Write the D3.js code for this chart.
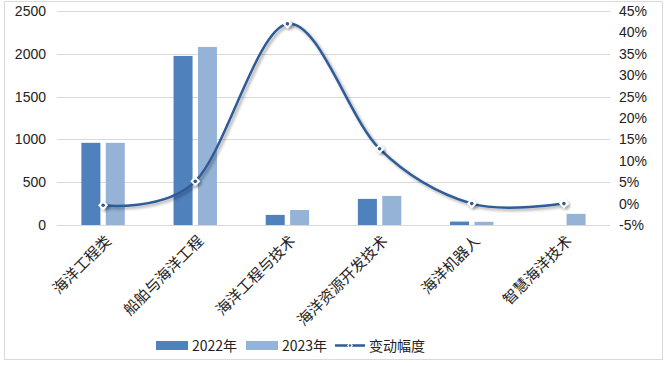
<!DOCTYPE html>
<html>
<head>
<meta charset="utf-8">
<style>
  body { margin: 0; background: #fff; }
  svg { display: block; font-family: "Noto Sans CJK SC", "Liberation Sans", sans-serif; }
</style>
</head>
<body>
<div id="chart"></div>
<script src="https://d3js.org/d3.v7.min.js"></script>
<script>
var categories = ["海洋工程类", "船舶与海洋工程", "海洋工程与技术", "海洋资源开发技术", "海洋机器人", "智慧海洋技术"];
var values2022 = [960, 1975, 118, 305, 40, 0];
var values2023 = [960, 2080, 175, 340, 38, 130];
var change = [-0.004, 0.052, 0.42, 0.128, 0.0, 0.0];
var leftTicks = [0, 500, 1000, 1500, 2000, 2500];
var rightTicks = [-0.05, 0, 0.05, 0.10, 0.15, 0.20, 0.25, 0.30, 0.35, 0.40, 0.45];

var W = 667, H = 366;
var m = {left: 57, right: 610, top: 11, bottom: 225};

var svg = d3.select("#chart").append("svg")
  .attr("width", W).attr("height", H);

svg.append("rect")
  .attr("x", 4.5).attr("y", 1.5).attr("width", 658).attr("height", 358)
  .attr("fill", "#fff").attr("stroke", "#d9d9d9");

var x = d3.scaleBand().domain(categories).range([m.left, m.right]);
var xs = d3.scaleBand().domain(["2022", "2023"]).range([0, x.bandwidth()]).paddingInner(0.22).paddingOuter(1.0);
var y = d3.scaleLinear().domain([0, 2500]).range([m.bottom, m.top]);
var y2 = d3.scaleLinear().domain([-0.05, 0.45]).range([m.bottom, m.top]);

// gridlines
svg.append("g").selectAll("line").data(leftTicks).enter().append("line")
  .attr("x1", m.left).attr("x2", m.right)
  .attr("y1", d => Math.round(y(d)) + 0.5).attr("y2", d => Math.round(y(d)) + 0.5)
  .attr("stroke", "#d9d9d9");

// left axis labels
svg.append("g").selectAll("text").data(leftTicks).enter().append("text")
  .attr("x", 46).attr("y", d => y(d) + 5)
  .attr("text-anchor", "end").attr("font-size", 14).attr("fill", "#222")
  .attr("font-family", "Liberation Sans, sans-serif")
  .text(d => d);

// right axis labels
svg.append("g").selectAll("text").data(rightTicks).enter().append("text")
  .attr("x", 619).attr("y", d => y2(d) + 5)
  .attr("text-anchor", "start").attr("font-size", 14).attr("fill", "#222")
  .attr("font-family", "Liberation Sans, sans-serif")
  .text(d => (d < 0 ? "-" : "") + Math.round(Math.abs(d) * 100) + "%");

// bars
var cols = {"2022": "#4f81bd", "2023": "#95b3d7"};
var series = [["2022", values2022], ["2023", values2023]];
series.forEach(function(s) {
  svg.append("g").selectAll("rect").data(s[1]).enter().append("rect")
    .attr("x", (d, i) => x(categories[i]) + xs(s[0]))
    .attr("width", xs.bandwidth())
    .attr("y", d => y(d))
    .attr("height", d => y(0) - y(d))
    .attr("fill", cols[s[0]]);
});

// category labels
svg.append("g").selectAll("text").data(categories).enter().append("text")
  .attr("transform", d => "translate(" + (x(d) + x.bandwidth() / 2 + 9) + ",242) rotate(-45)")
  .attr("text-anchor", "end").attr("font-size", 15).attr("fill", "#222")
  .text(d => d);

// line with shadow
var defs = svg.append("defs");
var f = defs.append("filter").attr("id", "shadow").attr("x", "-20%").attr("y", "-20%").attr("width", "140%").attr("height", "140%");
f.append("feDropShadow").attr("dx", 2).attr("dy", 2).attr("stdDeviation", 1.5).attr("flood-color", "#000").attr("flood-opacity", 0.35);

var pts = change.map((d, i) => [x(categories[i]) + x.bandwidth() / 2, y2(d)]);
var line = d3.line().curve(d3.curveCatmullRom.alpha(0));
svg.append("path")
  .attr("d", line(pts))
  .attr("fill", "none").attr("stroke", "#2f5b97").attr("stroke-width", 2.5)
  .attr("filter", "url(#shadow)");

var mk = svg.append("g").selectAll("g").data(pts).enter().append("g")
  .attr("transform", d => "translate(" + d[0] + "," + d[1] + ")")
  .attr("filter", "url(#shadow)");
mk.append("path").attr("d", "M0,-5L5,0L0,5L-5,0Z").attr("fill", "#fff");
mk.append("circle").attr("r", 1.8).attr("fill", "#2f5b97");

// legend
var lg = svg.append("g").attr("font-size", 14).attr("fill", "#222");
lg.append("rect").attr("x", 156).attr("y", 341).attr("width", 32).attr("height", 9).attr("fill", cols["2022"]);
lg.append("text").attr("x", 192).attr("y", 351).text("2022年");
lg.append("rect").attr("x", 246).attr("y", 341).attr("width", 32).attr("height", 9).attr("fill", cols["2023"]);
lg.append("text").attr("x", 282).attr("y", 351).text("2023年");
lg.append("line").attr("x1", 335).attr("x2", 365).attr("y1", 345.5).attr("y2", 345.5)
  .attr("stroke", "#2f5b97").attr("stroke-width", 2.5);
lg.append("path").attr("d", "M350,342.5L353,345.5L350,348.5L347,345.5Z").attr("fill", "#fff");
lg.append("circle").attr("cx", 350).attr("cy", 345.5).attr("r", 1.2).attr("fill", "#2f5b97");
lg.append("text").attr("x", 369).attr("y", 351).text("变动幅度");
</script>
</body>
</html>
